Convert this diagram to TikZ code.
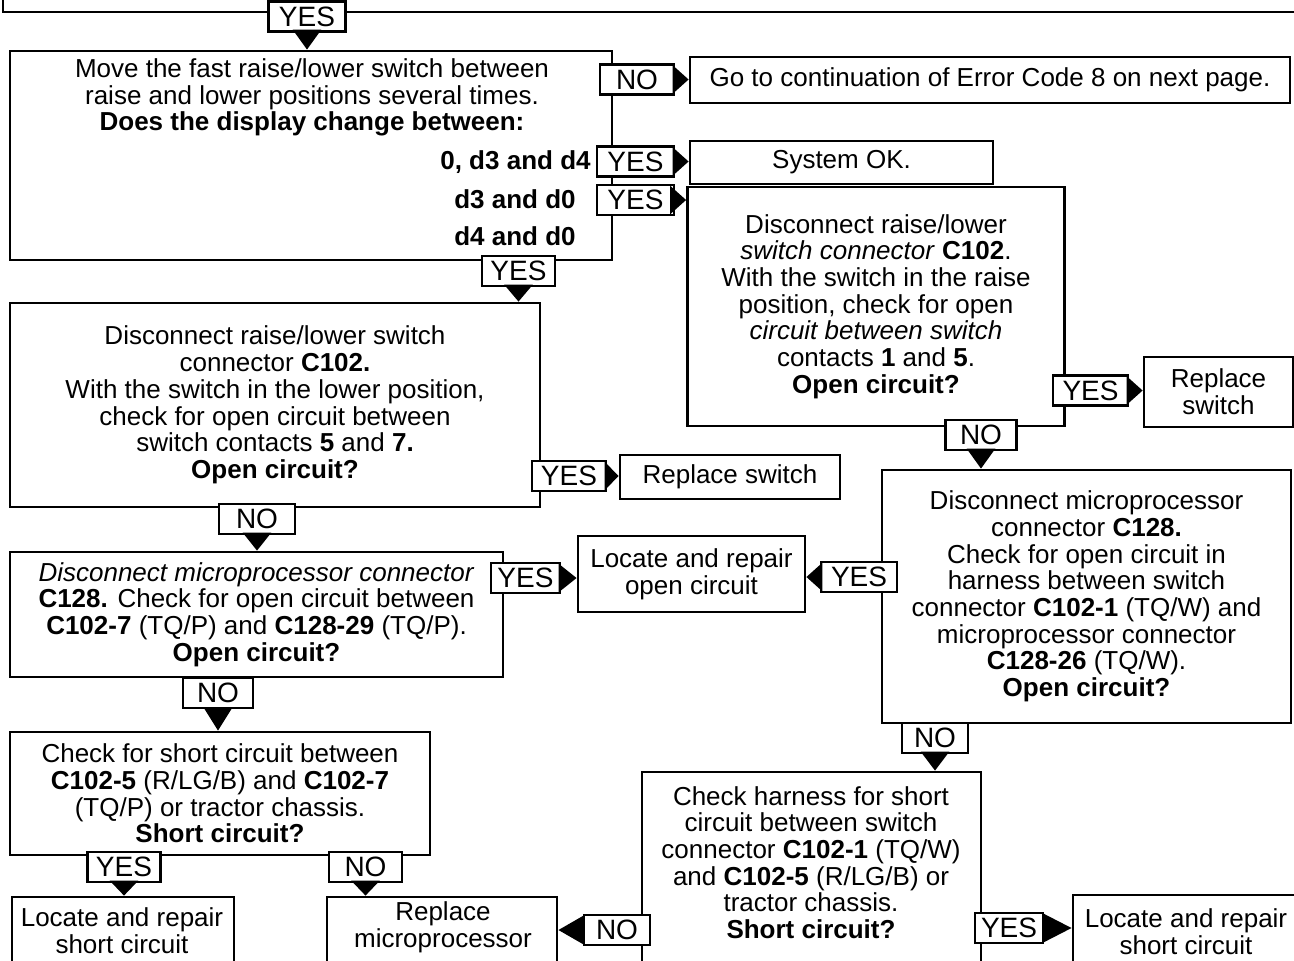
\documentclass[tikz,border=0pt]{standalone}
\usepackage{fontspec}
\setmainfont{Liberation Sans}
\usetikzlibrary{arrows.meta}

\tikzset{
  box/.style={draw, line width=1.4pt, inner sep=0pt, align=center},
  txt/.style={inner sep=0pt, align=center},
  lab/.style={draw, line width=1.4pt, fill=white, inner sep=0pt,
    minimum height=15pt, minimum width=#1,
    font=\fontsize{14pt}{14pt}\selectfont},
  lab/.default=36pt,
  go/.style={line width=1.4pt, -{Triangle[length=#1,width=14pt]}},
  go/.default=8pt
}

\begin{document}
\begin{tikzpicture}[x=0.5pt,y=-0.5pt,
  every node/.style={font=\fontsize{13pt}{13.35pt}\selectfont}]

\useasboundingbox (0,0) rectangle (1294,960);
\fill[white] (0,0) rectangle (1294,960);
\clip (0,0) rectangle (1294,960);

% ---- boxes ----
\node[box, minimum width=663.5pt, minimum height=26pt] (prev) at (666.5,-14) {};
\node[box, minimum width=301pt, minimum height=104.5pt] (boxA) at (311,155.5) {};
\node[box, minimum width=300pt, minimum height=23pt] (boxGo) at (990,80)
  {Go to continuation of Error Code 8 on next page.};
\node[box, minimum width=151.5pt, minimum height=21.5pt] (boxOK) at (841.5,162.5)
  {System OK.};
\node[box, minimum width=188.5pt, minimum height=119.5pt] (boxB) at (876,306.5)
  {Disconnect raise/lower\\\textit{switch connector} \textbf{C102}.\\With the switch in the raise\\position, check for open\\\textit{circuit between switch}\\contacts \textbf{1} and \textbf{5}.\\\textbf{Open circuit?}};
\node[box, minimum width=74.5pt, minimum height=35pt] (boxRS1) at (1218.5,392)
  {Replace\\switch};
\node[box, minimum width=204.5pt, minimum height=126.5pt] (boxC) at (1086.5,596.5)
  {Disconnect microprocessor\\connector \textbf{C128.}\\Check for open circuit in\\harness between switch\\connector \textbf{C102-1} (TQ/W) and\\microprocessor connector\\\textbf{C128-26} (TQ/W).\\\textbf{Open circuit?}};
\node[box, minimum width=113.5pt, minimum height=38pt] (boxLO) at (691.5,574)
  {Locate and repair\\open circuit};
\node[box, minimum width=169.5pt, minimum height=114pt] (boxF) at (811.5,886) {};
\node[box, minimum width=115pt, minimum height=51.5pt] (boxRM) at (442,948.5) {};
\node[box, minimum width=123.5pt, minimum height=52.5pt] (boxLS2) at (1196.5,947.5) {};
\node[box, minimum width=265pt, minimum height=102pt] (boxD) at (275,405)
  {Disconnect raise/lower switch\\connector \textbf{C102.}\\With the switch in the lower position,\\check for open circuit between\\switch contacts \textbf{5} and \textbf{7.}\\\textbf{Open circuit?}};
\node[box, minimum width=110pt, minimum height=22pt] (boxRS2) at (730,477)
  {Replace switch};
\node[box, minimum width=246.5pt, minimum height=62.5pt] (boxE) at (256.5,614.5)
  {\textit{Disconnect microprocessor connector}\\\textbf{C128.} Check for open circuit between\\\textbf{C102-7} (TQ/P) and \textbf{C128-29} (TQ/P).\\\textbf{Open circuit?}};
\node[box, minimum width=210pt, minimum height=61.5pt] (boxG) at (220,793.5)
  {Check for short circuit between\\\textbf{C102-5} (R/LG/B) and \textbf{C102-7}\\(TQ/P) or tractor chassis.\\\textbf{Short circuit?}};
\node[box, minimum width=111pt, minimum height=51.5pt] (boxLS1) at (123,948.5) {};

% ---- texts of the boxes running off the page ----
\node[txt] (tA) at (312,97.5)
  {Move the fast raise/lower switch between\\raise and lower positions several times.\\\textbf{Does the display change between:}};
\node[txt, anchor=east] (tA1) at (591,162) {\textbf{0, d3 and d4}};
\node[txt, anchor=east] (tA2) at (576,199) {\textbf{d3 and d0}};
\node[txt, anchor=east] (tA3) at (576,236) {\textbf{d4 and d0}};
\node[txt] (tF) at (811,862.5)
  {Check harness for short\\circuit between switch\\connector \textbf{C102-1} (TQ/W)\\and \textbf{C102-5} (R/LG/B) or\\tractor chassis.\\\textbf{Short circuit?}};
\node[txt] (tRM) at (443,927.5) {Replace\\microprocessor};
\node[txt] (tLS2) at (1186,932) {Locate and repair\\short circuit};
\node[txt] (tLS1) at (122,931) {Locate and repair\\short circuit};

% ---- answer labels ----
\node[lab=38.5pt] (l0) at (307,16.5) {YES};
\node[lab=37pt] (lNO1) at (637,79.5) {NO};
\node[lab=38.5pt] (lY1) at (635.5,161.5) {YES};
\node[lab=38.5pt] (lY2) at (635.5,200) {YES};
\node[lab=37.5pt] (lY3) at (1090.5,390.5) {YES};
\node[lab=35.5pt] (lNO2) at (981,435) {NO};
\node[lab=38pt] (lY4) at (859,577) {YES};
\node[lab=33pt] (lNO3) at (935,738) {NO};
\node[lab=33pt] (lNO4) at (617,930) {NO};
\node[lab=34pt] (lY5) at (1009,928) {YES};
\node[lab=36.5pt] (lY6) at (518.5,271) {YES};
\node[lab=37pt] (lY7) at (569,476) {YES};
\node[lab=38pt] (lNO5) at (257,519) {NO};
\node[lab=34.5pt] (lY8) at (525.5,578) {YES};
\node[lab=35pt] (lNO6) at (218,693) {NO};
\node[lab=36.5pt] (lY9) at (124,867) {YES};
\node[lab=36.5pt] (lNO7) at (365.5,867) {NO};

% ---- connectors ----
\draw[go=10pt] (l0.south) -- (l0.south |- boxA.north);
\draw[go] (lNO1.east) -- (lNO1.east -| boxGo.west);
\draw[go] (lY1.east) -- (lY1.east -| boxOK.west);
\draw[go] (lY2.east) -- (lY2.east -| boxB.west);
\draw[go] (lY3.east) -- (lY3.east -| boxRS1.west);
\draw[go=10pt] (lNO2.south) -- (lNO2.south |- boxC.north);
\draw[go] (lY4.west) -- (lY4.west -| boxLO.east);
\draw[go=9.5pt] (lNO3.south) -- (lNO3.south |- boxF.north);
\draw[go=12.5pt] (lNO4.west) -- (lNO4.west -| boxRM.east);
\draw[go=14pt] (lY5.east) -- (lY5.east -| boxLS2.west);
\draw[go=8.5pt] (lY6.south) -- (lY6.south |- boxD.north);
\draw[go=7pt] (lY7.east) -- (lY7.east -| boxRS2.west);
\draw[go=9pt] (lNO5.south) -- (lNO5.south |- boxE.north);
\draw[go=9pt] (lY8.east) -- (lY8.east -| boxLO.west);
\draw[go=11.5pt] (lNO6.south) -- (lNO6.south |- boxG.north);
\draw[go=7.5pt] (lY9.south) -- (lY9.south |- boxLS1.north);
\draw[go=7.5pt] (lNO7.south) -- (lNO7.south |- boxRM.north);
\end{tikzpicture}
\end{document}
